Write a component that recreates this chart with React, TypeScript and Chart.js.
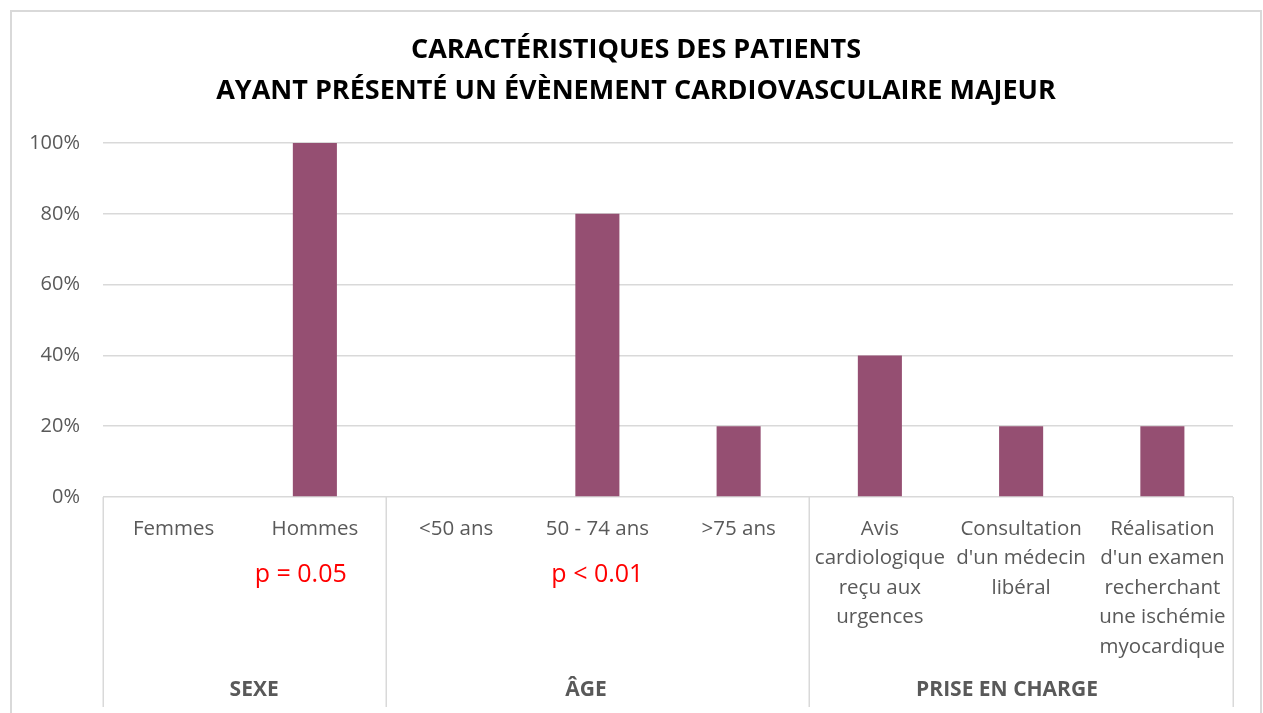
import React, { useEffect, useRef } from "react";
import { Chart, registerables } from "chart.js";

Chart.register(...registerables);

const categories: string[][] = [
  ["Femmes"],
  ["Hommes"],
  ["<50 ans"],
  ["50 - 74 ans"],
  [">75 ans"],
  ["Avis", "cardiologique", "reçu aux", "urgences"],
  ["Consultation", "d'un médecin", "libéral"],
  ["Réalisation", "d'un examen", "recherchant", "une ischémie", "myocardique"],
];
const values: number[] = [0, 100, 0, 80, 20, 40, 20, 20];
const groupLabels: string[] = ["SEXE", "ÂGE", "PRISE EN CHARGE"];
const groupSizes: number[] = [2, 3, 3];
const pLabels: string[] = ["p = 0.05", "p < 0.01"];
const pCategory: number[] = [1, 3];
const titleLines: string[] = [
  "CARACTÉRISTIQUES DES PATIENTS",
  "AYANT PRÉSENTÉ UN ÉVÈNEMENT CARDIOVASCULAIRE MAJEUR",
];
const yTicks: number[] = [0, 20, 40, 60, 80, 100];

const FONT = "'Open Sans', sans-serif";
const GRID = "#D9D9D9";
const TEXT = "#595959";

const FRAME = { left: 11, top: 11, right: 1261 };

const decorPlugin = {
  id: "decor",
  afterDraw(chart: any) {
    const ctx = chart.ctx;
    const x = chart.scales.x;
    const area = chart.chartArea;
    ctx.save();
    // outer frame
    ctx.strokeStyle = GRID;
    ctx.lineWidth = 2;
    ctx.strokeRect(FRAME.left, FRAME.top, FRAME.right - FRAME.left, 800);
    // title
    ctx.fillStyle = "#000000";
    ctx.font = `bold 27px ${FONT}`;
    ctx.textAlign = "center";
    ctx.textBaseline = "middle";
    const cx = (FRAME.left + FRAME.right) / 2;
    titleLines.forEach((t, i) => {
      ctx.fillText(t, cx, 50.5 + i * 41);
    });
    // group separators
    ctx.lineWidth = 1.5;
    const bottom = area.bottom + 210;
    let idx = 0;
    const bounds: number[] = [-0.5];
    groupSizes.forEach((s) => {
      idx += s;
      bounds.push(idx - 0.5);
    });
    bounds.forEach((b) => {
      const px = Math.round(x.getPixelForValue(b)) + 0.25;
      ctx.beginPath();
      ctx.moveTo(px, area.bottom);
      ctx.lineTo(px, bottom);
      ctx.stroke();
    });
    // group labels
    ctx.fillStyle = TEXT;
    ctx.font = `bold 21px ${FONT}`;
    const gShifts = [0.07, -0.08, -0.1];
    for (let i = 0; i < groupLabels.length; i++) {
      const mid = (bounds[i] + bounds[i + 1]) / 2 + gShifts[i];
      ctx.fillText(groupLabels[i], x.getPixelForValue(mid), area.bottom + 193);
    }
    // p values
    ctx.fillStyle = "#FF0000";
    ctx.font = `25px ${FONT}`;
    const shifts = [-0.1, 0];
    pLabels.forEach((t, i) => {
      ctx.fillText(t, x.getPixelForValue(pCategory[i] + shifts[i]), area.bottom + 78);
    });
    ctx.restore();
  },
};

export default function App() {
  const ref = useRef<HTMLCanvasElement | null>(null);
  useEffect(() => {
    if (!ref.current) return;
    const chart = new Chart(ref.current, {
      type: "bar",
      data: {
        labels: categories,
        datasets: [
          {
            data: values,
            backgroundColor: "#954F72",
            borderWidth: 0,
            barPercentage: 0.39,
            categoryPercentage: 0.8,
          },
        ],
      },
      options: {
        responsive: false,
        animation: false,
        layout: { padding: { left: 10, right: 30, top: 143, bottom: 0 } },
        plugins: {
          legend: { display: false },
          tooltip: { enabled: false },
          title: { display: false },
        },
        scales: {
          x: {
            grid: { display: false },
            border: { display: false },
            ticks: {
              color: TEXT,
              font: { family: FONT, size: 20.5, lineHeight: 1.44 },
              padding: 9,
              autoSkip: false,
              maxRotation: 0,
              minRotation: 0,
            },
            afterFit(scale: any) {
              scale.height = 216;
            },
          },
          y: {
            min: 0,
            max: 100,
            afterBuildTicks(scale: any) {
              scale.ticks = yTicks.map((v) => ({ value: v }));
            },
            grid: { color: GRID, lineWidth: 1.5, drawTicks: false },
            border: { display: false },
            ticks: {
              color: TEXT,
              font: { family: FONT, size: 20 },
              padding: 23,
              callback: (v: any) => `${v}%`,
            },
            afterFit(scale: any) {
              scale.width = 93;
            },
          },
        },
      },
      plugins: [decorPlugin],
    });
    return () => chart.destroy();
  }, []);
  return (
    <div style={{ position: "absolute", left: 0, top: 0, width: 1263, height: 713, background: "#fff" }}>
      <canvas ref={ref} width={1263} height={713} style={{ display: "block" }} />
    </div>
  );
}
